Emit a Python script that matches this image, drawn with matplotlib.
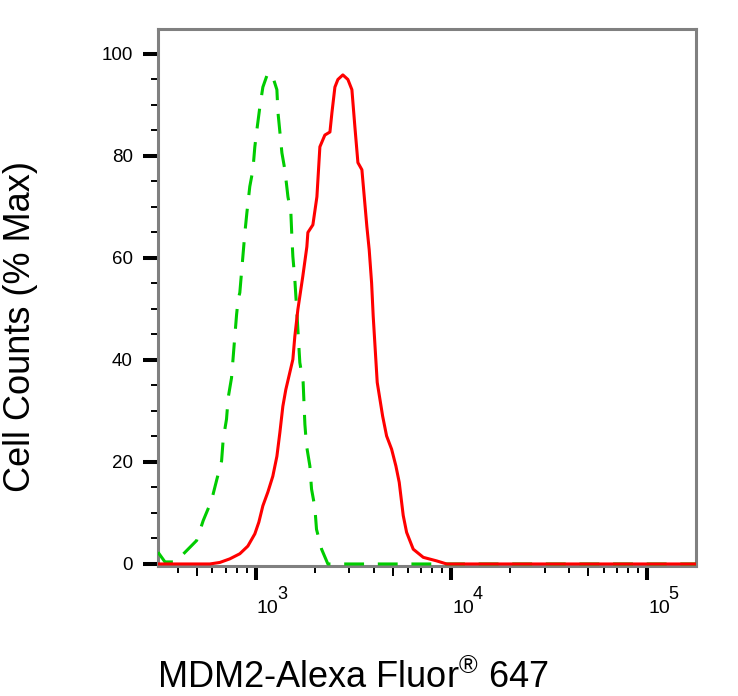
import numpy as np
import matplotlib
matplotlib.use('Agg')
import matplotlib.pyplot as plt
from matplotlib.ticker import LogLocator, FixedLocator, NullFormatter

plt.rcParams['font.family'] = ['Liberation Sans', 'DejaVu Sans']
plt.rcParams['mathtext.fontset'] = 'custom'
plt.rcParams['mathtext.rm'] = 'Liberation Sans'
plt.rcParams['mathtext.it'] = 'Liberation Sans'
plt.rcParams['mathtext.bf'] = 'Liberation Sans'

# stained sample (red, solid)
mdm2_x = [316, 518, 582, 655, 736, 828, 910, 988, 1036, 1086, 1152, 1221, 1281,
          1327, 1374, 1423, 1476, 1546, 1582, 1640, 1738, 1823, 1845, 1957,
          2052, 2125, 2253, 2392, 2449, 2536, 2627, 2785, 2955, 3098, 3209,
          3325, 3485, 3696, 3798, 3907, 3981, 4076, 4174, 4309, 4448, 4661,
          4945, 5201, 5408, 5669, 5899, 6377, 7177, 8403, 9452, 178000]
mdm2_y = [0, 0, 0, 0.3, 1.0, 2.0, 3.5, 5.9, 8.2, 11.4, 14.1, 17.2, 21.1,
          25.8, 30.9, 34.2, 36.8, 40.1, 44.6, 49.9, 56.4, 62.2, 65, 66.5,
          72, 81.8, 84.1, 84.7, 88.5, 93.5, 95, 95.9, 95, 93, 85.7,
          78.7, 77.3, 66.1, 61.6, 55.1, 48.6, 42.1, 35.6, 32.3, 29.0, 25.1,
          22.5, 19.2, 16.0, 9.5, 6.2, 2.9, 1.3, 0.6, 0, 0]

# isotype control (green, dashed)
ctrl_x = [316, 343, 385, 417, 498, 538, 593, 629, 668, 681, 708, 722, 751, 781,
          797, 812, 828, 879, 900, 931, 966, 988, 1012, 1048, 1086, 1152, 1221,
          1281, 1297, 1327, 1359, 1407, 1459, 1510, 1528, 1546, 1582, 1611,
          1640, 1678, 1745, 1781, 1816, 1889, 1926, 2003, 2042, 2168, 2335,
          178000]
ctrl_y = [2.3, 0.4, 0.4, 1.6, 4.6, 8.5, 12.4, 16.3, 20.2, 24.5, 28.4, 32.6, 36.5,
          44.7, 48.9, 51.9, 53.2, 65, 68.9, 74, 77.3, 81.8, 85.1, 89.6, 93.5,
          96.3, 95.5, 93, 88.6, 84.7, 80.6, 77.3, 72, 68.9, 64.2, 60.3, 55.8,
          51, 46, 39.5, 35.6, 27.4, 23.2, 19.2, 14.7, 11.1, 6.8, 2.9, 0, 0]

yticks = [0, 20, 40, 60, 80, 100]
xticks = [1e3, 1e4, 1e5]
xtick_exps = ['3', '4', '5']
five_ticks = [500, 5000, 50000]

fig = plt.figure(figsize=(7.38, 6.96), dpi=100)
ax = fig.add_axes([158/738, 1 - 566/696, (696 - 158)/738, (566 - 29)/696])

ax.plot(ctrl_x, ctrl_y, color='#00cc00', lw=2.2, dashes=(6.5, 4.5), zorder=3)
ax.plot(mdm2_x, mdm2_y, color='#ff0000', lw=2.2, zorder=4)

ax.set_xscale('log')
ax.set_xlim(316, 178000)
ax.set_ylim(-0.4, 104.9)

ax.set_xticks(xticks)
ax.set_xticklabels([])
ax.xaxis.set_minor_locator(LogLocator(base=10, subs=np.arange(2, 10)))
ax.xaxis.set_minor_formatter(NullFormatter())

# decade labels: "10" with a large raised exponent
for xv, ex in zip(xticks, xtick_exps):
    ax.annotate('10', xy=(xv, 0), xycoords=('data', 'axes fraction'),
                xytext=(1, -47), textcoords='offset pixels',
                fontsize=14, ha='left', va='baseline', annotation_clip=False)
    ax.annotate(ex, xy=(xv, 0), xycoords=('data', 'axes fraction'),
                xytext=(21, -33), textcoords='offset pixels',
                fontsize=13, ha='left', va='baseline', annotation_clip=False)

# slightly longer ticks at the 5x positions
for xv in five_ticks:
    ax.plot([xv, xv], [0, -10/537], transform=ax.get_xaxis_transform(),
            color='black', lw=1.4, clip_on=False, solid_capstyle='butt')

ax.set_yticks(yticks)
ax.yaxis.set_minor_locator(FixedLocator(np.arange(0, 105, 5)))

ax.tick_params(axis='both', which='major', length=11, width=2.9, color='black',
               labelsize=13.5, pad=7)
ax.tick_params(axis='both', which='minor', length=5, width=1.4, color='black')
ax.tick_params(axis='x', which='major', length=10)

for s in ax.spines.values():
    s.set_color('#808080')
    s.set_linewidth(2.2)

fig.text(157/738, 1 - 688/696, 'MDM2-Alexa Fluor$^{\u00ae}$ 647', fontsize=26,
         ha='left', va='baseline')
fig.text(21/738, 1 - 327/696, 'Cell Counts (% Max)', fontsize=26, rotation=90,
         ha='center', va='center')

fig.savefig('out.png', dpi=100)
